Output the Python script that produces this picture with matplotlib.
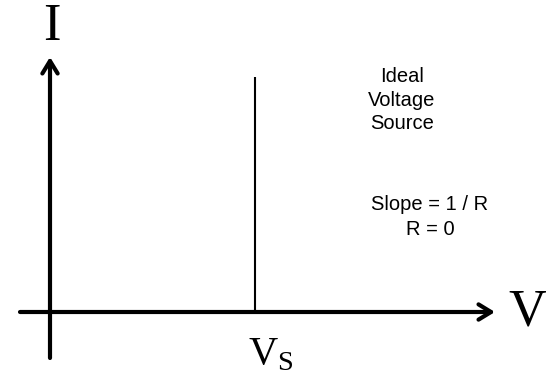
import matplotlib
matplotlib.use("Agg")
import matplotlib.pyplot as plt

plt.rcParams['mathtext.fontset'] = 'custom'
plt.rcParams['mathtext.rm'] = 'Liberation Serif'

# axis extents (origin at the axes crossing)
v_axis = [-30, 445]
i_axis = [-46, 255]
# ideal voltage source: vertical line at V = Vs
vs = 205
source_v = [vs, vs]
source_i = [0, 235]

title_lines = ["Ideal", "Voltage", "Source"]
slope_lines = ["Slope = 1 / R", "R = 0"]

fig = plt.figure(figsize=(5.46, 3.76), dpi=100)
ax = fig.add_axes([0, 0, 1, 1])
ax.set_xlim(-50, 496)
ax.set_ylim(-64, 312)
ax.axis('off')

arrow = dict(arrowstyle='->,head_length=0.9,head_width=0.55', lw=3, color='black',
             shrinkA=0, shrinkB=0)
ax.annotate('', xy=(v_axis[1], 0), xytext=(v_axis[0], 0), arrowprops=arrow)
ax.annotate('', xy=(0, i_axis[1]), xytext=(0, i_axis[0]), arrowprops=arrow)

ax.plot(source_v, source_i, color='black', lw=1.5, solid_capstyle='butt')

ax.text(2, 285, 'I', fontsize=38, family='Liberation Serif', ha='center', va='center')
ax.text(477, 0, 'V', fontsize=38, family='Liberation Serif', ha='center', va='center')
ax.text(vs + 16, -41, r'$\mathrm{V}_\mathrm{S}$', fontsize=29, ha='center', va='center')

ax.text(352, 212, '\n'.join(title_lines), fontsize=14.5, family='Liberation Sans',
        ha='center', va='center', linespacing=1.33)
ax.text(380, 95, '\n'.join(slope_lines), fontsize=14.5, family='Liberation Sans',
        ha='center', va='center', linespacing=1.4)

fig.savefig('out.png', dpi=100)
